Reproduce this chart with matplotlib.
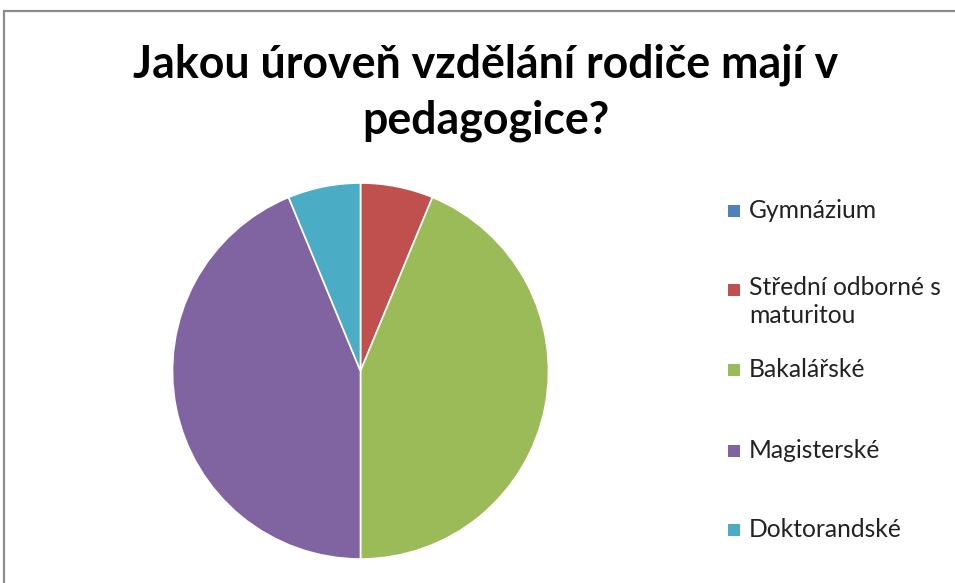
import matplotlib
matplotlib.use("Agg")
import matplotlib.pyplot as plt
from matplotlib.patches import Rectangle

# ---- data ----
categories = ["Gymnázium", "Střední odborné s\nmaturitou", "Bakalářské", "Magisterské", "Doktorandské"]
values = [0, 1, 7, 7, 1]
colors = ["#4F81BD", "#C0504D", "#9BBB59", "#8064A2", "#4BACC6"]
title_lines = ["Jakou úroveň vzdělání rodiče mají v", "pedagogice?"]

W, H = 955, 583
fig = plt.figure(figsize=(W / 100, H / 100), dpi=100)
fig.patch.set_facecolor("white")

FONT = ["Lato", "DejaVu Sans"]

def fy(px_from_top):
    return 1 - px_from_top / H

def fx(px):
    return px / W

# ---- pie ----
cx, cy, r = 360.5, 371, 188
ax = fig.add_axes([fx(cx - r), fy(cy + r), 2 * r / W, 2 * r / H])
ax.pie(values, colors=colors, startangle=90, counterclock=False, radius=1,
       wedgeprops=dict(edgecolor="white", linewidth=1.2))
ax.set_xlim(-1, 1)
ax.set_ylim(-1, 1)
ax.set_aspect("auto")
ax.axis("off")

renderer = fig.canvas.get_renderer()

def fit_text(x, y, s, target_w, weight="normal", ha="left"):
    t = fig.text(x, y, s, fontsize=20, family=FONT, weight=weight, ha=ha, va="baseline")
    w = t.get_window_extent(renderer).width
    t.set_fontsize(20 * target_w / w)
    return t

# ---- title ----
t1 = fit_text(fx(485.5), fy(77), title_lines[0], 705, weight="bold", ha="center")
fs_title = t1.get_fontsize()
fig.text(fx(485.5), fy(134), title_lines[1], fontsize=fs_title, family=FONT,
         weight="bold", ha="center", va="baseline")

# ---- legend ----
g = fit_text(fx(749), fy(218), "Gymnázium", 128)
fs_leg = g.get_fontsize()
g.remove()
sq_centers = [211, 290, 370, 451, 530]
baselines = [[218], [295, 323], [377], [458], [537]]
sq = 12
for lab, col, yc, bls in zip(categories, colors, sq_centers, baselines):
    fig.add_artist(Rectangle((fx(728), fy(yc + sq / 2)), sq / W, sq / H,
                             transform=fig.transFigure, facecolor=col, edgecolor="none"))
    for line, bl in zip(lab.split("\n"), bls):
        fig.text(fx(749), fy(bl), line, fontsize=fs_leg, family=FONT,
                 color="#222222", ha="left", va="baseline")

# ---- chart frame ----
fig.add_artist(Rectangle((fx(4), -0.1), 1.2, fy(11) + 0.1, transform=fig.transFigure,
                         fill=False, edgecolor="#8c8c8c", linewidth=1.6))

fig.savefig("out.png", dpi=100, facecolor="white")
